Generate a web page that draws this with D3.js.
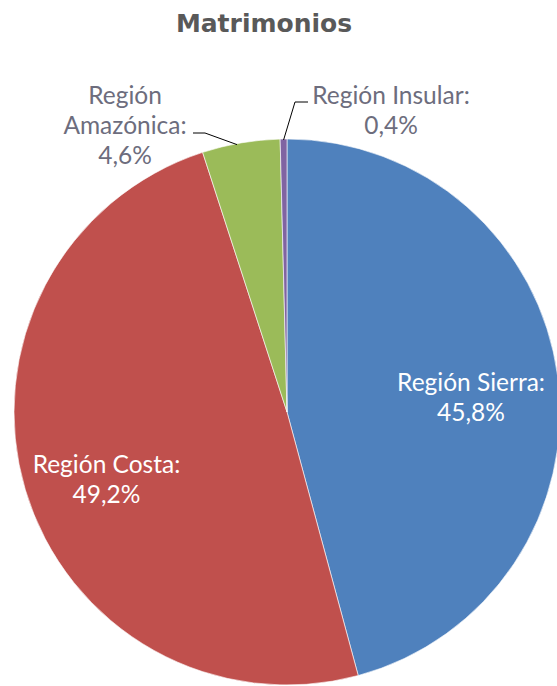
<!DOCTYPE html>
<html><head><meta charset="utf-8">
<script src="https://cdn.jsdelivr.net/npm/d3@7"></script>
<style>body{margin:0;background:#fff}svg{display:block}</style>
</head><body>
<script>
const categories = ["Región Sierra", "Región Costa", "Región Amazónica", "Región Insular"];
const values = [45.8, 49.2, 4.6, 0.4];
const valueLabels = ["45,8%", "49,2%", "4,6%", "0,4%"];
const colors = ["#4F81BD", "#C0504D", "#9BBB59", "#8064A2"];
const title = "Matrimonios";

const W = 557, H = 686;
const cx = 287, cy = 412, R = 273;
const svg = d3.select("body").append("svg").attr("width", W).attr("height", H);

svg.append("text").attr("x", 264).attr("y", 32).attr("text-anchor", "middle")
  .attr("font-family", "DejaVu Sans").attr("font-weight", "bold").attr("font-size", 25)
  .attr("fill", "#595959").text(title);

const data = categories.map((c, i) => ({cat: c, value: values[i], label: valueLabels[i], color: colors[i]}));
const pie = d3.pie().value(d => d.value).sort(null);
const arcs = pie(data);
const arc = d3.arc().innerRadius(0).outerRadius(R);
const g = svg.append("g").attr("transform", `translate(${cx},${cy})`);
g.selectAll("path").data(arcs).join("path")
  .attr("d", arc).attr("fill", d => d.data.color)
  .attr("stroke", "#fff").attr("stroke-width", 0.6);

const font = "Lato, 'Liberation Sans', sans-serif";
const fs = 24.5;
const lh = 30;
// inside labels: [line1 baseline, line2 baseline] computed from centroid
const inner = [{i: 0, r: 0.68, dy: 10}, {i: 1, r: 0.69, dy: 14}];
inner.forEach(o => {
  const a = arcs[o.i];
  const m = (a.startAngle + a.endAngle) / 2;
  const x = o.r * R * Math.sin(m), y = -o.r * R * Math.cos(m) + o.dy;
  const t = g.append("text").attr("text-anchor", "middle").attr("font-family", font)
    .attr("font-size", fs).attr("fill", "#ffffff");
  t.append("tspan").attr("x", x).attr("y", y - lh / 2 + 8).text(a.data.cat + ":");
  t.append("tspan").attr("x", x).attr("y", y + lh / 2 + 8).text(a.data.label);
});

// outside labels
const labColor = "#6d6d7d";
function edge(a, frac) {
  const ang = a.startAngle + (a.endAngle - a.startAngle) * frac;
  return [cx + R * Math.sin(ang), cy - R * Math.cos(ang)];
}
// Amazónica
{
  const a = arcs[2];
  const p = edge(a, 0.45);
  svg.append("polyline").attr("points", `193,133 205,133 ${p[0]},${p[1] + 1}`)
    .attr("fill", "none").attr("stroke", "#000").attr("stroke-width", 1);
  const t = svg.append("text").attr("text-anchor", "middle").attr("font-family", font)
    .attr("font-size", fs).attr("fill", labColor);
  t.append("tspan").attr("x", 125).attr("y", 104).text("Región");
  t.append("tspan").attr("x", 125).attr("y", 104 + lh).text("Amazónica:");
  t.append("tspan").attr("x", 125).attr("y", 104 + 2 * lh).text(a.data.label);
}
// Insular
{
  const a = arcs[3];
  const p = edge(a, 0.5);
  svg.append("polyline").attr("points", `${p[0]},${p[1] + 1} 295,102 308,102`)
    .attr("fill", "none").attr("stroke", "#000").attr("stroke-width", 1);
  const t = svg.append("text").attr("text-anchor", "middle").attr("font-family", font)
    .attr("font-size", fs).attr("fill", labColor);
  t.append("tspan").attr("x", 391).attr("y", 104).text("Región Insular:");
  t.append("tspan").attr("x", 391).attr("y", 104 + lh).text(a.data.label);
}
</script>
</body></html>
